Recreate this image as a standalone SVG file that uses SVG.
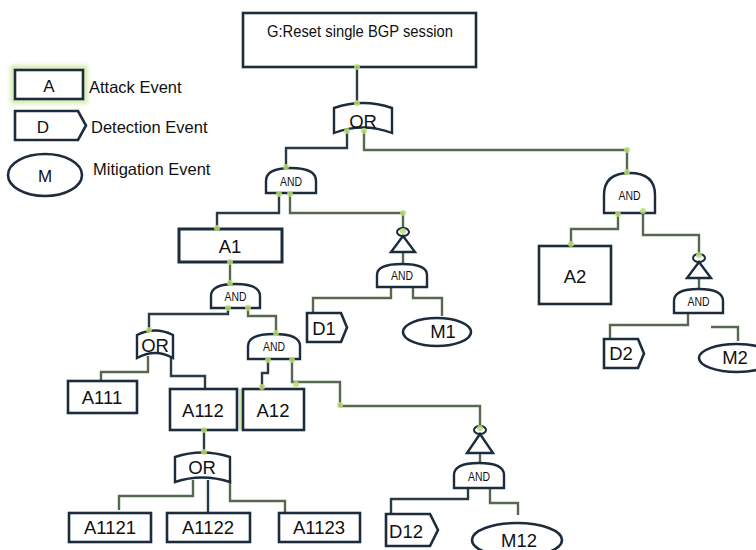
<svg xmlns="http://www.w3.org/2000/svg" width="756" height="550" viewBox="0 0 756 550">
  <defs>
    <style>
      .box { fill: #fff; stroke: #1d2c3c; stroke-width: 2.6; }
      .gate { fill: #fff; stroke: #1d2c3c; stroke-width: 2.4; }
      .wire { fill: none; stroke: #56694f; stroke-width: 2.4; stroke-linejoin: miter; }
      .dk { stroke: #2b3b45; }
      .dot { fill: #b9dc74; opacity: 0.85; }
      .lbl { font-family: "Liberation Sans", Arial, sans-serif; fill: #111; text-anchor: middle; }
      .big { font-size: 18.5px; }
      .and { font-size: 12px; }
      .leg { font-family: "Liberation Sans", Arial, sans-serif; font-size: 16.5px; fill: #111; }
    </style>
    <filter id="glow" x="-20%" y="-30%" width="140%" height="160%">
      <feGaussianBlur stdDeviation="2"/>
    </filter>
  </defs>

  <rect width="756" height="550" fill="#fff"/>

  <!-- legend -->
  <g id="legend">
    <rect x="13" y="68" width="72" height="33" fill="none" stroke="#cfe9a6" stroke-width="5" filter="url(#glow)"/>
    <rect class="box" x="15" y="70" width="68" height="29"/>
    <text class="lbl" x="49" y="92" font-size="17">A</text>
    <text class="leg" x="89" y="93">Attack Event</text>
    <path class="box" d="M15,111 H78 L86,125.5 L78,140 H15 Z"/>
    <text class="lbl" x="43" y="133" font-size="17">D</text>
    <text class="leg" x="91" y="133">Detection Event</text>
    <ellipse class="box" cx="45" cy="175" rx="37" ry="21"/>
    <text class="lbl" x="45" y="182" font-size="17">M</text>
    <text class="leg" x="93" y="175">Mitigation Event</text>
  </g>

  <!-- connectors -->
  <g id="connectors">
    <polyline class="wire dk" points="357,67 357,104"/>
    <polyline class="wire dk" points="347,131 347,148 286,148 286,168"/>
    <polyline class="wire" points="364,130 364,150 627,150 627,173"/>
    <polyline class="wire dk" points="279,193 279,213 217,213 217,230"/>
    <polyline class="wire" points="290,193 290,213 403,213 403,229"/>
    <polyline class="wire" points="403,252 403,264"/>
    <polyline class="wire" points="391,287 391,298 313,298 313,313"/>
    <polyline class="wire" points="413,287 413,298 442,298 442,316"/>
    <polyline class="wire" points="230,262 230,284"/>
    <polyline class="wire dk" points="228,308 228,314 149,314 149,331"/>
    <polyline class="wire" points="248,308 248,316 276,316 276,334"/>
    <polyline class="wire" points="148,356 148,372 101,372 101,382"/>
    <polyline class="wire dk" points="171,356 171,376 205,376 205,389"/>
    <polyline class="wire dk" points="268,359 268,373 262,373 262,389"/>
    <polyline class="wire" points="292,359 292,382 340,382 340,406 480,406 480,427"/>
    <polyline class="wire" points="480,453 480,463"/>
    <polyline class="wire dk" points="468,488 468,499 391,499 391,514"/>
    <polyline class="wire" points="490,488 490,503 518,503 518,515"/>
    <polyline class="wire dk" points="204,430 204,454"/>
    <polyline class="wire" points="193,480 193,496 119,496 119,510"/>
    <polyline class="wire dk" points="208,480 208,513"/>
    <polyline class="wire" points="230,480 230,501 285,501 285,522"/>
    <polyline class="wire" points="618,213 618,229 571,229 571,246"/>
    <polyline class="wire" points="643,213 643,235 699,235 699,255"/>
    <polyline class="wire" points="699,278 699,289"/>
    <polyline class="wire" points="688,313 688,325 610,325 610,339"/>
    <polyline class="wire" points="711,327 738,327 738,341"/>
  </g>

  <!-- top event -->
  <g id="G">
    <rect class="box" x="243" y="13" width="233" height="54"/>
    <text class="lbl" x="360" y="37" font-size="16" textLength="186" lengthAdjust="spacingAndGlyphs">G:Reset single BGP session</text>
  </g>

  <g id="OR_top">
    <path class="gate" d="M334,108 Q363,98 392,108 V133 Q363,122 334,133 Z"/>
    <text class="lbl big" x="363" y="128" font-size="19">OR</text>
  </g>

  <g id="AND_1">
    <path class="gate" d="M266,193 V181 Q266,168 291,168 Q316,168 316,181 V193 Z"/>
    <text class="lbl and" x="291" y="186" textLength="22" lengthAdjust="spacingAndGlyphs">AND</text>
  </g>

  <g id="A1">
    <rect class="box" x="179" y="229" width="103" height="33" style="stroke-width:3"/>
    <text class="lbl big" x="230" y="253" font-size="19.5">A1</text>
  </g>

  <g id="AND_2">
    <path class="gate" d="M211,308 V296 Q211,284 235.5,284 Q260,284 260,296 V308 Z"/>
    <text class="lbl and" x="235.5" y="301" textLength="22" lengthAdjust="spacingAndGlyphs">AND</text>
  </g>

  <g id="INH_1">
    <ellipse class="gate" cx="403" cy="232" rx="6" ry="4" style="stroke-width:2"/>
    <path class="gate" d="M403,236 L415,252 H391 Z"/>
  </g>

  <g id="AND_3">
    <path class="gate" d="M377,287 V275 Q377,264 402,264 Q427,264 427,275 V287 Z"/>
    <text class="lbl and" x="402" y="280" textLength="22" lengthAdjust="spacingAndGlyphs">AND</text>
  </g>

  <g id="D1">
    <path class="box" d="M307,313 H341 L347,327.5 L341,342 H307 Z"/>
    <text class="lbl big" x="324" y="335">D1</text>
  </g>

  <g id="M1">
    <ellipse class="box" cx="437" cy="332" rx="34" ry="14"/>
    <text class="lbl big" x="443" y="338">M1</text>
  </g>

  <g id="OR_2">
    <path class="gate" d="M137,335 Q155,326 173,335 V358 Q155,348 137,358 Z"/>
    <text class="lbl big" x="155" y="352">OR</text>
  </g>

  <g id="AND_4">
    <path class="gate" d="M248,359 V346 Q248,334 274,334 Q300,334 300,346 V359 Z"/>
    <text class="lbl and" x="274" y="351" textLength="22" lengthAdjust="spacingAndGlyphs">AND</text>
  </g>

  <g id="A111">
    <rect class="box" x="68" y="381" width="69" height="32"/>
    <text class="lbl big" x="102" y="404">A111</text>
  </g>

  <g id="A112">
    <rect class="box" x="170" y="389" width="67" height="41"/>
    <text class="lbl big" x="203" y="417">A112</text>
  </g>

  <g id="A12">
    <rect x="239" y="389" width="3" height="41" fill="#cfe9a6"/>
    <rect class="box" x="243" y="389" width="61" height="41"/>
    <text class="lbl big" x="273" y="417">A12</text>
  </g>

  <g id="OR_3">
    <path class="gate" d="M175,457 Q202,448 230,457 V482 Q202,473 175,482 Z"/>
    <text class="lbl big" x="202" y="474">OR</text>
  </g>

  <g id="A1121">
    <rect class="box" x="69" y="513" width="82" height="29"/>
    <text class="lbl big" x="110" y="534">A1121</text>
  </g>

  <g id="A1122">
    <rect class="box" x="167" y="513" width="83" height="29"/>
    <text class="lbl big" x="208" y="534">A1122</text>
  </g>

  <g id="A1123">
    <rect class="box" x="279" y="513" width="81" height="29"/>
    <text class="lbl big" x="319" y="534">A1123</text>
  </g>

  <g id="INH_2">
    <ellipse class="gate" cx="480" cy="430" rx="6" ry="4" style="stroke-width:2"/>
    <path class="gate" d="M480,434 L493,453 H467 Z"/>
  </g>

  <g id="AND_5">
    <path class="gate" d="M454,488 V475 Q454,463 479,463 Q504,463 504,475 V488 Z"/>
    <text class="lbl and" x="479" y="481" textLength="22" lengthAdjust="spacingAndGlyphs">AND</text>
  </g>

  <g id="D12">
    <path class="box" d="M386,514 H430 L438,530 L430,546 H386 Z"/>
    <text class="lbl big" x="406" y="538">D12</text>
  </g>

  <g id="M12">
    <ellipse class="box" cx="517" cy="540" rx="45" ry="17"/>
    <text class="lbl big" x="519" y="547">M12</text>
  </g>

  <g id="AND_6">
    <path class="gate" d="M604,213 V195 Q604,173 629.5,173 Q655,173 655,195 V213 Z"/>
    <text class="lbl and" x="629.5" y="200" textLength="22" lengthAdjust="spacingAndGlyphs">AND</text>
  </g>

  <g id="A2">
    <rect class="box" x="539" y="246" width="72" height="58"/>
    <text class="lbl big" x="575" y="283">A2</text>
  </g>

  <g id="INH_3">
    <ellipse class="gate" cx="699" cy="258" rx="6" ry="4" style="stroke-width:2"/>
    <path class="gate" d="M699,262 L711,278 H687 Z"/>
  </g>

  <g id="AND_7">
    <path class="gate" d="M674,313 V301 Q674,289 698.5,289 Q723,289 723,301 V313 Z"/>
    <text class="lbl and" x="698.5" y="306" textLength="22" lengthAdjust="spacingAndGlyphs">AND</text>
  </g>

  <g id="D2">
    <path class="box" d="M604,339 H638 L644,353.5 L638,368 H604 Z"/>
    <text class="lbl big" x="621" y="360">D2</text>
  </g>

  <g id="M2">
    <ellipse class="box" cx="737" cy="358" rx="38" ry="14"/>
    <text class="lbl big" x="735" y="364">M2</text>
  </g>

  <!-- connection-point highlights -->
  <g id="points">
    <circle class="dot" cx="357" cy="67" r="3"/>
    <circle class="dot" cx="357" cy="103" r="3"/>
    <circle class="dot" cx="347" cy="131" r="3"/>
    <circle class="dot" cx="364" cy="131" r="3"/>
    <circle class="dot" cx="286" cy="167" r="3"/>
    <circle class="dot" cx="627" cy="150" r="3"/>
    <circle class="dot" cx="627" cy="172" r="3"/>
    <circle class="dot" cx="279" cy="194" r="3"/>
    <circle class="dot" cx="290" cy="194" r="3"/>
    <circle class="dot" cx="217" cy="228" r="3"/>
    <circle class="dot" cx="403" cy="213" r="3"/>
    <circle class="dot" cx="403" cy="231" r="3"/>
    <circle class="dot" cx="230" cy="262" r="3"/>
    <circle class="dot" cx="230" cy="283" r="3"/>
    <circle class="dot" cx="228" cy="308" r="3"/>
    <circle class="dot" cx="248" cy="308" r="3"/>
    <circle class="dot" cx="149" cy="330" r="3"/>
    <circle class="dot" cx="276" cy="333" r="3"/>
    <circle class="dot" cx="268" cy="360" r="3"/>
    <circle class="dot" cx="292" cy="360" r="3"/>
    <circle class="dot" cx="262" cy="387" r="3"/>
    <circle class="dot" cx="296" cy="384" r="3"/>
    <circle class="dot" cx="340" cy="405" r="3"/>
    <circle class="dot" cx="480" cy="428" r="3"/>
    <circle class="dot" cx="204" cy="430" r="3"/>
    <circle class="dot" cx="204" cy="452" r="3"/>
    <circle class="dot" cx="618" cy="214" r="3"/>
    <circle class="dot" cx="643" cy="211" r="3"/>
    <circle class="dot" cx="571" cy="244" r="3"/>
    <circle class="dot" cx="699" cy="255" r="3"/>
  </g>
</svg>
